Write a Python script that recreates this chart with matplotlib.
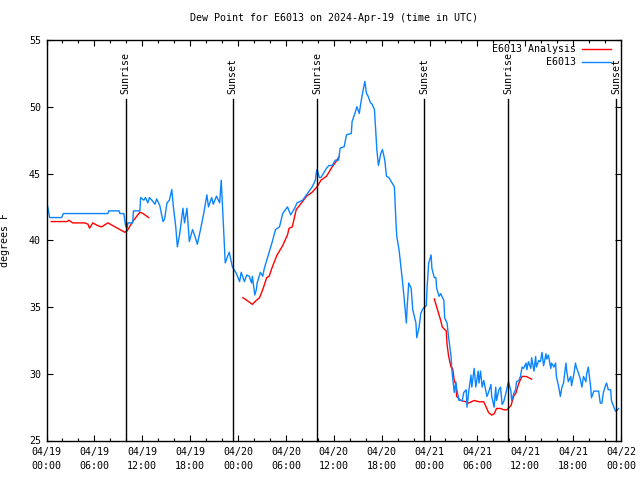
import matplotlib
matplotlib.use("Agg")
import matplotlib.pyplot as plt
import matplotlib.dates as mdates
import matplotlib.transforms as mtransforms
from datetime import datetime, timedelta

# ---------------- data ----------------
start = datetime(2024, 4, 19)

obs_hours = [0.06, 0.4, 1.9, 2.1, 7.7, 7.8, 9.1, 9.2, 9.7, 9.9, 10.1, 10.2, 10.8, 10.9, 11.7, 11.8,
             12.2, 12.4, 12.7, 12.9, 13.2, 13.6, 13.8, 14.2, 14.6, 14.8, 15.1, 15.4, 15.7, 15.9,
             16.2, 16.4, 16.7, 17.1, 17.3, 17.6, 17.9, 18.3, 18.6, 18.9, 19.3, 19.7, 20.1, 20.3,
             20.7, 20.9, 21.3, 21.7, 21.9, 22.2, 22.4, 22.7, 22.9, 23.3, 23.8, 24.2, 24.4, 24.8,
             25.1, 25.4, 25.7, 25.8, 26.1, 26.3, 26.4, 26.8, 27.1, 27.3, 27.7, 28.3, 28.7, 29.2,
             29.6, 30.2, 30.6, 31.1, 31.4, 32.1, 32.7, 33.3, 33.7, 33.8, 33.9, 34.2, 34.4, 35.1,
             35.4, 35.8, 36.2, 36.6, 36.8, 37.3, 37.6, 38.2, 38.3, 38.7, 38.9, 39.2, 39.4, 39.6,
             39.9, 40.1, 40.3, 40.6, 40.8, 41.1, 41.3, 41.4, 41.6, 41.9, 42.1, 42.4, 42.6, 42.9,
             43.3, 43.6, 43.8, 43.9, 44.2, 44.6, 44.8, 45.1, 45.2, 45.4, 45.7, 45.9, 46.3, 46.4,
             46.7, 46.9, 47.2, 47.6, 47.7, 47.9, 48.2, 48.3, 48.6, 48.8, 48.9, 49.2, 49.4, 49.8,
             49.9, 50.2, 50.4, 50.7, 50.8, 51.1, 51.3, 51.4, 51.7, 52.1, 52.3, 52.6, 52.7, 52.9,
             53.2, 53.3, 53.6, 53.8, 54.1, 54.2, 54.4, 54.6, 54.8, 55.1, 55.2, 55.4, 55.7, 55.8,
             56.1, 56.3, 56.4, 56.7, 56.9, 57.1, 57.3, 57.6, 57.7, 57.9, 58.2, 58.3, 58.6, 58.8,
             58.9, 59.2, 59.4, 59.6, 59.8, 60.1, 60.2, 60.4, 60.7, 60.8, 61.1, 61.3, 61.4, 61.7,
             61.9, 62.1, 62.3, 62.6, 62.7, 62.9, 63.2, 63.3, 63.6, 63.8, 63.9, 64.2, 64.4, 64.6,
             64.8, 65.1, 65.2, 65.4, 65.7, 65.8, 66.1, 66.3, 66.4, 66.7, 66.9, 67.1, 67.3, 67.6,
             67.7, 67.9, 68.2, 68.3, 68.6, 68.8, 69.2, 69.4, 69.6, 69.8, 70.1, 70.2, 70.4, 70.7,
             70.8, 71.1, 71.3, 71.4, 71.7]
obs_values = [42.8, 41.7, 41.7, 42.0, 42.0, 42.2, 42.2, 42.0, 42.0, 41.1, 40.9, 41.3, 41.3, 42.2, 42.2, 43.2,
              43.0, 43.2, 42.8, 43.2, 43.0, 42.7, 43.1, 42.6, 41.4, 41.6, 42.8, 43.0, 43.8, 42.5,
              41.0, 39.5, 40.5, 42.4, 41.3, 42.4, 39.9, 40.8, 40.3, 39.7, 40.8, 42.0, 43.4, 42.5,
              43.2, 42.7, 43.3, 42.8, 44.5, 40.8, 38.3, 38.8, 39.1, 38.0, 37.5, 36.9, 37.6, 36.9,
              37.4, 37.3, 36.8, 37.3, 35.9, 36.3, 36.8, 37.6, 37.3, 37.9, 38.7, 39.9, 40.8, 41.0,
              42.0, 42.5, 41.9, 42.4, 42.8, 43.0, 43.5, 44.0, 44.5, 45.0, 45.3, 44.7, 44.7, 45.4,
              45.6, 45.6, 46.0, 46.0, 46.9, 47.0, 47.9, 48.0, 48.9, 49.6, 50.0, 49.5, 50.3, 51.0,
              51.9, 51.0, 50.8, 50.3, 50.2, 49.8, 47.8, 46.8, 45.6, 46.5, 46.8, 46.0, 44.8, 44.7,
              44.3, 44.0, 41.3, 40.3, 39.2, 37.0, 35.8, 33.8, 35.0, 36.8, 36.4, 34.8, 33.8, 32.7,
              33.5, 34.5, 34.9, 35.1, 36.5, 38.3, 38.9, 37.9, 37.2, 37.2, 36.4, 35.8, 36.0, 35.5,
              34.2, 33.8, 32.7, 31.3, 30.3, 28.6, 29.4, 28.9, 28.0, 28.0, 28.6, 28.8, 27.5, 28.6,
              29.9, 29.0, 30.4, 29.0, 30.2, 29.3, 30.2, 29.0, 29.5, 28.6, 28.3, 28.6, 29.2, 28.3,
              27.5, 29.0, 28.0, 28.8, 29.0, 27.7, 27.9, 28.6, 28.9, 29.4, 28.7, 28.0, 28.6, 28.8,
              29.4, 29.5, 29.8, 30.5, 30.4, 30.8, 30.3, 30.9, 30.4, 31.2, 30.2, 31.3, 30.5, 31.0,
              30.9, 31.6, 30.6, 31.5, 31.1, 31.4, 30.4, 30.8, 30.5, 30.8, 29.8, 29.0, 28.3, 29.0,
              29.3, 30.8, 30.2, 29.4, 29.8, 29.1, 30.0, 30.8, 30.5, 30.0, 29.6, 29.0, 29.8, 29.4,
              30.0, 30.5, 29.0, 28.2, 28.7, 28.7, 28.7, 27.8, 27.8, 28.6, 29.2, 29.3, 28.8, 28.8,
              28.0, 27.5, 27.2, 27.2, 27.4]

# analysis series, three separate runs (gaps between them)
ana1_hours = [0.6, 2.6, 2.8, 3.3, 4.8, 5.2, 5.4, 5.8, 6.4, 6.9, 7.7, 8.3, 8.9, 9.8, 10.1, 10.8, 11.7, 12.1, 12.8]
ana1_values = [41.4, 41.4, 41.5, 41.3, 41.3, 41.2, 40.9, 41.3, 41.1, 41.0, 41.3, 41.1, 40.9, 40.6, 40.7, 41.4, 42.1, 42.0, 41.7]
ana2_hours = [24.6, 25.1, 25.8, 26.3, 26.7, 27.1, 27.6, 27.9, 28.3, 28.9, 29.6, 30.2, 30.4, 30.8, 31.3, 31.7,
              32.6, 33.3, 33.9, 34.4, 35.1, 35.8, 36.3, 36.7]
ana2_values = [35.7, 35.5, 35.2, 35.5, 35.7, 36.3, 37.2, 37.3, 38.0, 38.9, 39.6, 40.4, 40.9, 41.0, 42.3, 42.6,
               43.3, 43.6, 44.0, 44.5, 44.8, 45.5, 45.9, 46.3]
ana3_hours = [48.6, 48.9, 49.4, 49.6, 50.1, 50.2, 50.4, 50.7, 50.9, 51.1, 51.3, 51.4, 51.9, 52.6, 52.9, 53.6,
              54.2, 54.8, 55.1, 55.4, 55.8, 56.1, 56.4, 56.9, 57.3, 57.7, 58.2, 58.6, 58.8, 59.2, 59.6,
              60.1, 60.8]
ana3_values = [35.6, 35.0, 34.0, 33.5, 33.2, 32.2, 31.3, 30.5, 30.4, 29.5, 29.2, 28.3, 28.0, 27.9, 27.8, 28.0,
               27.9, 27.9, 27.5, 27.1, 26.9, 27.0, 27.4, 27.4, 27.3, 27.3, 27.6, 28.4, 28.5, 29.3, 29.8,
               29.8, 29.6]

sun_hours = [9.94, 23.35, 33.92, 47.37, 57.90, 71.38]
sun_labels = ["Sunrise", "Sunset", "Sunrise", "Sunset", "Sunrise", "Sunset"]

title = "Dew Point for E6013 on 2024-Apr-19 (time in UTC)"
ylabel = "degrees F"
legend_labels = ["E6013 Analysis", "E6013"]
yticks = [25, 30, 35, 40, 45, 50, 55]

# ---------------- plot ----------------
def to_dt(hours):
    return [start + timedelta(hours=h) for h in hours]

FONT = "DejaVu Sans Mono"
FS = 7.2
plt.rcParams["font.family"] = [FONT]

fig = plt.figure(figsize=(6.4, 4.8), dpi=100)
ax = fig.add_axes([46.5 / 640, 39.5 / 480, 574.5 / 640, 400.5 / 480])

red = "#ff0000"
blue = "#0a84ff"

l1, = ax.plot(to_dt(ana1_hours), ana1_values, color=red, lw=1.0)
ax.plot(to_dt(ana2_hours), ana2_values, color=red, lw=1.0)
ax.plot(to_dt(ana3_hours), ana3_values, color=red, lw=1.0)
l2, = ax.plot(to_dt(obs_hours), obs_values, color=blue, lw=1.0)

trans = mtransforms.blended_transform_factory(ax.transData, ax.transAxes)
for h, lab in zip(sun_hours, sun_labels):
    t = mdates.date2num(start + timedelta(hours=h))
    ax.plot([t, t], [0, 0.853], transform=trans, color="black", lw=1.0, clip_on=False)
    ax.text(t, 0.866, lab, transform=trans, rotation=90, ha="center", va="bottom",
            fontsize=FS, family=FONT)

ax.set_xlim(start, start + timedelta(hours=72))
ax.set_ylim(25, 55)
ax.set_yticks(yticks)

ax.xaxis.set_major_locator(mdates.HourLocator(byhour=[0, 6, 12, 18]))
ax.xaxis.set_minor_locator(mdates.HourLocator(byhour=range(0, 24, 2)))
ax.xaxis.set_major_formatter(mdates.DateFormatter("%m/%d\n%H:%M"))

ax.tick_params(axis="both", which="both", direction="in", top=True, right=True,
               labelsize=FS, width=0.8)
ax.tick_params(axis="both", which="major", length=4)
ax.tick_params(axis="both", which="minor", length=2.5)
ax.tick_params(axis="x", which="major", pad=5)
ax.tick_params(axis="y", which="major", pad=4)
for lbl in ax.get_xticklabels():
    lbl.set_linespacing(1.45)

for sp in ax.spines.values():
    sp.set_linewidth(1.0)

ax.set_title(title, fontsize=FS, pad=14)
ax.set_ylabel(ylabel, fontsize=FS)
ax.yaxis.set_label_coords(-0.0635, 0.5)

leg = ax.legend([l1, l2], legend_labels, loc="upper right", bbox_to_anchor=(0.982, 0.99),
                frameon=False, fontsize=FS, markerfirst=False, handlelength=2.9,
                handletextpad=0.6, labelspacing=0.3, borderpad=0, borderaxespad=0)

fig.savefig("out.png", dpi=100)
